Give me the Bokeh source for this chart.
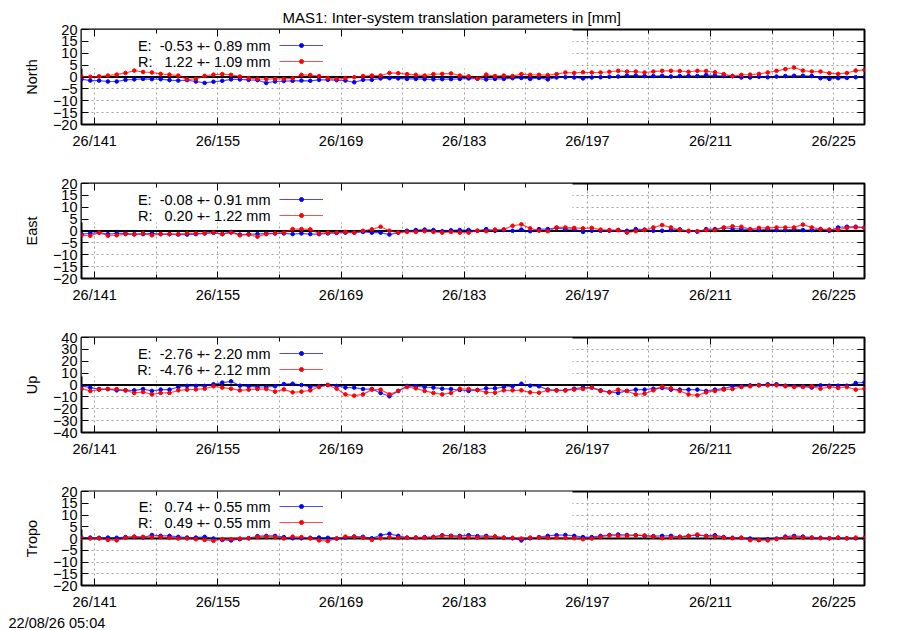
from bokeh.plotting import figure
from bokeh.layouts import column
from bokeh.models import (Range1d, FixedTicker, LinearAxis, Span, Label, Legend, Title,
                          LegendItem, BoxAnnotation, ColumnDataSource, CustomJSTickFormatter)
from bokeh.embed import file_html
from bokeh.resources import INLINE

# ---------------- data ----------------
doy = list(range(139, 229))          # daily solutions (plotted at noon)
tick_days = [141, 155, 169, 183, 197, 211, 225]
tick_labels = ["26/141", "26/155", "26/169", "26/183", "26/197", "26/211", "26/225"]
minor_days = [148, 162, 176, 190, 204, 218]

title_text = "MAS1: Inter-system translation parameters in [mm]"
stamp_text = "22/08/26 05:04"
panel_names = ["North", "East", "Up", "Tropo"]
panel_limits = [20, 20, 40, 20]
panel_steps = [5, 5, 10, 5]

e_mean = [-0.53, -0.08, -2.76, 0.74]
e_std = [0.89, 0.91, 2.20, 0.55]
r_mean = [1.22, 0.20, -4.76, 0.49]
r_std = [1.09, 1.22, 2.12, 0.55]

north_e = [-0.9, -1.5, -1.5, -1.9, -1.9, -1.2, -1.0, -0.8, -0.9, -0.9,
           -1.3, -1.5, -1.3, -1.9, -2.5, -2.0, -1.6, -1.0, -1.0, -1.2,
           -1.3, -2.5, -1.9, -1.7, -1.6, -1.5, -1.6, -1.2, -1.2, -1.3,
           -1.5, -2.2, -1.2, -1.2, -0.6, -0.5, -0.6, -0.8, -0.8, -0.9,
           -1.0, -0.9, -0.9, -0.8, -0.6, -0.7,
           -1.0, -0.8, -0.8, -0.5, -0.4, -0.8, -0.4, -1.0, -0.2, -0.1,
           -0.2, -0.6, -0.2, -0.1, 0.1, 0.2, 0.6, 0.6, 0.4, 0.4,
           0.5, 0.2, 0.4, 0.5, 0.4, 0.8, 0.6, 0.4, 0.4, -0.2,
           -0.2, 0.1, -0.1, 0.2, 0.4, 0.5, 0.5, 0.4, -0.5, -0.8,
           -0.5, -0.4, -0.1, -0.1]
north_r = [0.2, 0.1, 0.3, 0.6, 1.0, 1.7, 2.7, 2.1, 1.9, 1.3,
           1.0, 0.6, -1.0, -0.8, 0.5, 1.0, 1.2, 0.9, 0.2, -0.5,
           -0.8, -0.9, -0.8, -0.8, -0.6, 0.9, 0.8, 0.4, -0.5, -0.9,
           -0.5, -0.1, 0.4, 0.6, 0.6, 1.7, 1.6, 1.2, 0.9, 0.6,
           1.2, 1.3, 1.5, 0.6, 0.3, -0.7,
           1.0, 0.4, 0.6, 0.4, 1.2, 0.9, 0.9, 0.8, 1.2, 1.9,
           1.7, 2.0, 1.9, 1.9, 2.2, 2.6, 2.3, 2.3, 1.9, 2.3,
           2.6, 2.6, 2.5, 2.2, 2.6, 2.5, 2.0, 1.2, 0.4, 0.9,
           1.0, 1.3, 1.9, 2.6, 3.3, 4.0, 2.7, 2.3, 2.3, 1.6,
           1.3, 1.7, 2.7, 3.0]
east_e = [-1.3, -1.0, -0.7, -1.3, -1.0, -1.0, -1.3, -1.3, -1.0, -1.3,
          -1.3, -1.5, -1.5, -1.3, -1.0, -0.7, -1.3, -0.4, -1.5, -1.3,
          -1.3, -1.0, -1.0, -1.0, -1.3, -1.0, -1.3, -1.3, -1.0, -0.8,
          -0.7, -0.7, -0.4, -0.7, -0.7, -1.5, -0.7, 0.1, 0.4, 0.6,
          0.4, -0.1, 0.3, 0.4, 0.4, 0.1,
          0.8, 0.1, 0.4, 0.1, 0.6, -0.1, 0.8, 0.8, 1.3, 0.8,
          0.8, -0.4, 0.1, 0.1, 0.1, 0.4, 0.1, 0.8, 0.6, 0.1,
          0.1, 0.4, 0.7, -0.1, -0.3, 0.8, 0.8, 1.3, 1.0, 0.8,
          0.6, 0.4, 0.8, 0.4, 0.4, 0.8, 0.4, 0.4, 0.8, 0.1,
          1.5, 1.8, 1.8, 1.5]
east_r = [-1.8, -2.0, -0.7, -2.0, -1.8, -1.3, -1.5, -1.0, -1.8, -1.3,
          -1.3, -1.3, -1.0, -1.0, -1.0, -0.7, -1.3, -0.7, -1.8, -1.5,
          -2.4, -1.3, -1.0, -0.7, 0.8, 0.8, 0.7, -1.0, -0.7, -0.7,
          -0.4, -0.7, 0.1, 0.7, 1.8, 0.1, -0.7, -0.4, -0.4, -0.1,
          -0.4, -0.7, -0.4, -0.7, -0.7, 0.1,
          -0.1, 0.6, 0.7, 2.2, 2.8, 1.1, 0.1, -0.1, 1.5, 1.5,
          1.3, 1.1, 1.3, 0.6, 0.4, 0.4, -0.7, -0.1, 0.4, 1.5,
          2.5, 1.5, 0.4, 0.1, -0.1, 0.4, 0.4, 1.5, 2.0, 1.8,
          0.8, 1.3, 1.3, 1.5, 1.5, 1.5, 2.7, 1.5, 0.8, 0.6,
          0.6, 1.3, 1.5, 1.3]
up_e = [-0.8, -2.2, -3.4, -3.4, -4.5, -4.5, -4.5, -3.4, -5.0, -3.9,
        -3.9, -1.7, -0.8, -0.8, -0.8, 0.6, 2.0, 3.1, -0.6, -1.1,
        -1.7, -1.7, -1.1, 0.8, 1.1, 0.0, -1.7, -1.1, 0.0, -0.8,
        -2.2, -2.2, -3.4, -3.4, -6.7, -9.5, -5.0, -0.8, -1.1, -1.7,
        -2.2, -3.1, -3.4, -4.2, -5.0, -4.2,
        -2.8, -2.8, -1.7, -1.1, 1.1, -0.6, -1.1, -3.9, -4.5, -4.5,
        -3.1, -2.2, -2.2, -4.5, -5.9, -6.7, -5.0, -3.9, -3.9, -3.1,
        -2.5, -3.9, -3.9, -3.9, -3.9, -5.0, -3.9, -3.1, -1.1, -1.1,
        -0.3, 0.0, 0.6, 0.6, -0.6, -1.1, -1.1, -2.2, -0.3, -0.6,
        -0.6, -0.6, 1.7, 2.2]
up_r = [-3.1, -5.0, -3.9, -3.4, -3.4, -4.5, -6.7, -5.9, -7.9, -6.7,
        -6.7, -4.5, -3.9, -3.7, -3.1, -1.1, -2.2, -3.1, -4.5, -3.9,
        -3.4, -3.4, -5.6, -3.7, -6.2, -5.6, -4.5, -1.7, 0.0, -3.1,
        -7.9, -9.0, -7.9, -3.9, -3.9, -7.9, -5.0, -1.7, -2.8, -5.0,
        -6.7, -7.9, -6.7, -3.1, -3.4, -4.3,
        -6.2, -6.5, -4.5, -4.5, -4.5, -6.2, -6.5, -4.5, -4.5, -4.5,
        -3.9, -3.4, -2.2, -5.0, -6.2, -3.9, -5.0, -7.9, -7.3, -4.5,
        -1.4, -2.8, -5.0, -7.9, -8.7, -6.2, -5.0, -3.9, -3.4, -1.7,
        -1.1, -0.3, -0.3, -0.3, -1.1, -1.7, -1.7, -1.1, -3.1, -1.7,
        -2.5, -1.7, -3.9, -3.1]
tropo_e = [0.4, 0.4, 0.3, 0.4, 0.3, 0.6, 0.7, 0.4, 1.5, 1.1,
           1.1, 0.7, 0.4, 0.4, 0.7, 0.0, -0.6, -0.8, -0.3, 0.1,
           1.0, 1.1, 1.1, 0.6, 0.1, 0.1, 0.3, 0.4, 0.3, 0.0,
           0.4, 0.8, 0.7, 0.1, 1.4, 2.0, 1.1, 0.4, 0.4, 0.6,
           0.7, 1.4, 1.1, 1.1, 1.4, 1.0,
           1.1, 0.8, 0.4, 0.1, -0.8, 0.1, 0.6, 1.1, 1.4, 1.5,
           1.1, 0.6, 0.6, 1.1, 1.5, 1.7, 1.5, 1.4, 1.1, 1.0,
           1.1, 1.1, 0.7, 1.1, 1.4, 1.1, 1.4, 0.6, 0.3, 0.3,
           0.0, -0.6, -0.3, 0.0, 0.8, 1.1, 0.8, 0.4, 0.3, 0.1,
           0.3, 0.1, 0.1, 0.0]
tropo_r = [0.1, 0.0, 0.0, -0.6, -0.8, 0.3, 0.8, 0.7, 0.6, 0.6,
           0.3, 0.0, 0.0, -0.3, -0.6, -1.0, -0.3, -0.3, 0.0, 0.1,
           0.6, 0.8, 0.6, 0.0, 0.8, 0.6, 0.0, -0.8, -1.1, 0.0,
           0.8, 0.8, 0.3, -0.6, 0.1, 0.6, 0.3, 0.3, 0.4, 0.3,
           0.6, 1.1, 1.1, 0.6, 0.6, 0.4,
           0.6, 0.8, 0.3, 0.3, 0.0, 0.4, 0.4, 0.3, 0.4, 0.3,
           0.1, -0.3, 0.0, 0.7, 1.3, 1.1, 1.1, 1.3, 1.3, 0.8,
           0.1, 0.4, 0.7, 1.1, 1.7, 1.0, 0.8, 0.4, 0.1, 0.3,
           -0.7, -0.7, -0.8, -0.3, 0.4, 0.6, 0.4, 0.3, 0.1, 0.1,
           0.4, 0.1, 0.4, 0.3]

series_e = [north_e, east_e, up_e, tropo_e]
series_r = [north_r, east_r, up_r, tropo_r]

# ---------------- style ----------------
FONT = "Liberation Sans"
FS = "14.5px"
GRID = "#a0a0a0"
FRAME_H = 95
heights = [154, 154, 154, 168]
bottoms = [30, 30, 30, 44]
NBSP = "\u00a0"
blank = CustomJSTickFormatter(code="return '';")


def make_panel(k):
    lim = panel_limits[k]
    yt = FixedTicker(ticks=list(range(-lim, lim + 1, panel_steps[k])))
    xt = FixedTicker(ticks=tick_days, minor_ticks=minor_days)
    p = figure(width=900, height=heights[k], output_backend="svg", toolbar_location=None,
               x_range=Range1d(doy[0] + 0.5, doy[-1] + 0.5), y_range=Range1d(-lim, lim),
               min_border_left=81, min_border_right=36, min_border_top=29,
               min_border_bottom=bottoms[k])
    p.outline_line_color = "black"
    p.outline_line_width = 2

    # axes
    p.xaxis.ticker = xt
    p.xaxis.major_label_overrides = dict(zip(tick_days, tick_labels))
    p.yaxis.ticker = yt
    for ax in (p.xaxis[0], p.yaxis[0]):
        ax.major_tick_in = 7
        ax.major_tick_out = 0
        ax.minor_tick_in = 4
        ax.minor_tick_out = 0
        ax.axis_line_color = None
        ax.major_label_text_font = FONT
        ax.major_label_text_font_size = FS
        ax.major_label_text_color = "black"
        ax.major_tick_line_color = "black"
        ax.minor_tick_line_color = "black"
    p.xaxis.major_label_standoff = 8
    p.yaxis.major_label_standoff = 4
    p.yaxis.axis_label = panel_names[k]
    p.yaxis.axis_label_text_font = FONT
    p.yaxis.axis_label_text_font_size = FS
    p.yaxis.axis_label_text_font_style = "normal"
    p.yaxis.axis_label_text_color = "black"
    p.yaxis.axis_label_standoff = 10

    # mirrored ticks on the top and right borders (no labels)
    top = LinearAxis(ticker=xt, formatter=blank, major_label_text_font_size="1px",
                     major_label_standoff=0, major_tick_in=7, major_tick_out=0,
                     minor_tick_in=4, minor_tick_out=0, axis_line_color=None,
                     major_tick_line_color="black", minor_tick_line_color="black")
    p.add_layout(top, "above")
    right = LinearAxis(ticker=yt, formatter=blank, major_label_text_font_size="1px",
                       major_label_standoff=0, major_tick_in=7, major_tick_out=0,
                       minor_tick_in=0, minor_tick_out=0, axis_line_color=None,
                       major_tick_line_color="black")
    p.add_layout(right, "right")

    # grid (dotted, every labelled and unlabelled tick)
    p.xgrid.ticker = xt
    p.ygrid.ticker = yt
    for g in (p.xgrid[0], p.ygrid[0]):
        g.grid_line_color = GRID
        g.grid_line_dash = "2 3"
        g.grid_line_width = 1
    p.xgrid.minor_grid_line_color = GRID
    p.xgrid.minor_grid_line_dash = "2 3"

    # opaque key background
    p.add_layout(BoxAnnotation(left=0, right=491, top=FRAME_H, bottom=FRAME_H - 39,
                               left_units="screen", right_units="screen",
                               top_units="screen", bottom_units="screen",
                               fill_color="white", fill_alpha=1.0, line_color=None,
                               level="underlay"))
    # zero axis
    p.add_layout(Span(location=0, dimension="width", line_color="black", line_width=2,
                      level="underlay"))

    src = ColumnDataSource(dict(x=[d + 0.5 for d in doy], e=series_e[k], r=series_r[k]))
    le = p.line("x", "e", source=src, line_color="blue", line_width=1.2, line_alpha=0.7)
    se = p.scatter("x", "e", source=src, size=3.6, color="blue")
    lr = p.line("x", "r", source=src, line_color="red", line_width=1.2, line_alpha=0.7)
    sr = p.scatter("x", "r", source=src, size=3.6, color="red")

    leg = Legend(items=[LegendItem(label=" ", renderers=[le, se]),
                        LegendItem(label=" ", renderers=[lr, sr])],
                 location=(198, FRAME_H - 37), orientation="vertical",
                 glyph_width=44, glyph_height=10, label_width=0, label_height=10,
                 label_standoff=0, padding=0, margin=0, spacing=6,
                 label_text_font_size="6px", border_line_color=None,
                 background_fill_alpha=0)
    p.add_layout(leg, "center")

    txt_e = ("E:  %5.2f +- %4.2f mm" % (e_mean[k], e_std[k])).replace(" ", NBSP)
    txt_r = ("R:  %5.2f +- %4.2f mm" % (r_mean[k], r_std[k])).replace(" ", NBSP)
    for txt, yy in ((txt_e, FRAME_H - 16), (txt_r, FRAME_H - 32)):
        p.add_layout(Label(x=189, y=yy, x_units="screen", y_units="screen", text=txt,
                           text_align="right", text_baseline="middle",
                           text_font=FONT, text_font_size=FS, text_color="black"))
    return p


figs = [make_panel(k) for k in range(4)]

figs[0].add_layout(Title(text=title_text, align="left", offset=201, standoff=7,
                         text_font=FONT, text_font_size="15px", text_font_style="normal",
                         text_color="black"), "above")
figs[3].add_layout(Title(text=stamp_text, align="left", offset=-73, standoff=0,
                         text_font=FONT, text_font_size=FS, text_font_style="normal",
                         text_color="black"), "below")

layout = column(*figs, spacing=0)
open("out.html", "w").write(file_html(layout, INLINE))
